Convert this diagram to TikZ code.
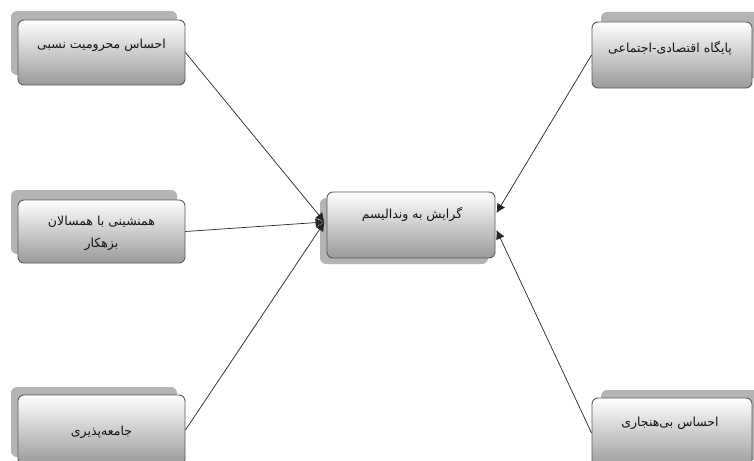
\documentclass[tikz,border=0pt]{standalone}
\usepackage{fontspec}
\newfontfamily\arabicfont[Script=Arabic]{DejaVu Sans}
\TeXXeTstate=1
\usetikzlibrary{arrows.meta,calc}
\definecolor{shadowgray}{HTML}{B4B4B4}
\definecolor{edgegray}{HTML}{5A5A5A}
\definecolor{botgray}{HTML}{9A9A9A}
\tikzset{
  frontbox/.style={draw=edgegray, line width=0.9pt, rounded corners=6pt, top color=white, bottom color=botgray, minimum width=#1, inner sep=0pt},
  backbox/.style={fill=shadowgray, rounded corners=6pt, minimum width=#1, inner sep=0pt},
  txt/.style={font=\arabicfont\fontsize{12.5}{22}\selectfont, align=center, inner sep=0pt, text=black!92},
  conn/.style={draw=black!85, line width=0.7pt, -{Latex[length=9pt,width=9pt]}},
}
\begin{document}
\begin{tikzpicture}[x=1pt,y=-1pt]
\useasboundingbox (0,0) rectangle (754,460);
\clip (0,0) rectangle (754,460);
\fill[white] (0,0) rectangle (754,460);
% shadows
\node[backbox=166pt, minimum height=64pt] (s1) at (94,43) {};
\node[backbox=166pt, minimum height=64pt] (s2) at (94,222) {};
\node[backbox=166pt, minimum height=70pt] (s3) at (94,422) {};
\node[backbox=168pt, minimum height=66pt] (s4) at (404,231) {};
\node[backbox=162pt, minimum height=66pt] (s5) at (682,45) {};
\node[backbox=162pt, minimum height=70pt] (s6) at (682,425) {};
% front boxes
\node[frontbox=167pt, minimum height=65pt] (b1) at (101.5,52.5) {};
\node[frontbox=167pt, minimum height=63pt] (b2) at (101.5,231.5) {};
\node[frontbox=167pt, minimum height=70pt] (b3) at (101.5,430) {};
\node[frontbox=168pt, minimum height=66pt] (c) at (411,225) {};
\node[frontbox=160pt, minimum height=66pt] (r1) at (672,55) {};
\node[frontbox=160pt, minimum height=70pt] (r2) at (672,433) {};
% texts
\node[txt] (t1) at (101.5,45) {\beginR احساس محرومیت نسبی\endR};
\node[txt] (t2) at (101.5,233) {\beginR همنشینی با همسالان\endR\\\beginR بزهکار\endR};
\node[txt] (t3) at (101.5,432) {\beginR جامعه‌پذیری\endR};
\node[txt] (tc) at (412,214) {\beginR گرایش به وندالیسم\endR};
\node[txt] (tr1) at (670,48) {\beginR پایگاه اقتصادی-اجتماعی\endR};
\node[txt] (tr2) at (670,423) {\beginR احساس بی‌هنجاری\endR};
% connector end points
\coordinate (cl) at ($(c.west)+(-2,-3)$);
\coordinate (cr1) at ($(c.east)+(1,-12)$);
\coordinate (cr2) at ($(c.east)+(1,5)$);
\draw[conn] (b1.east) -- (cl);
\draw[conn] (b2.east) -- (cl);
\draw[conn] (b3.east) -- (cl);
\draw[conn] (r1.west) -- (cr1);
\draw[conn] (r2.west) -- (cr2);
\end{tikzpicture}
\end{document}
